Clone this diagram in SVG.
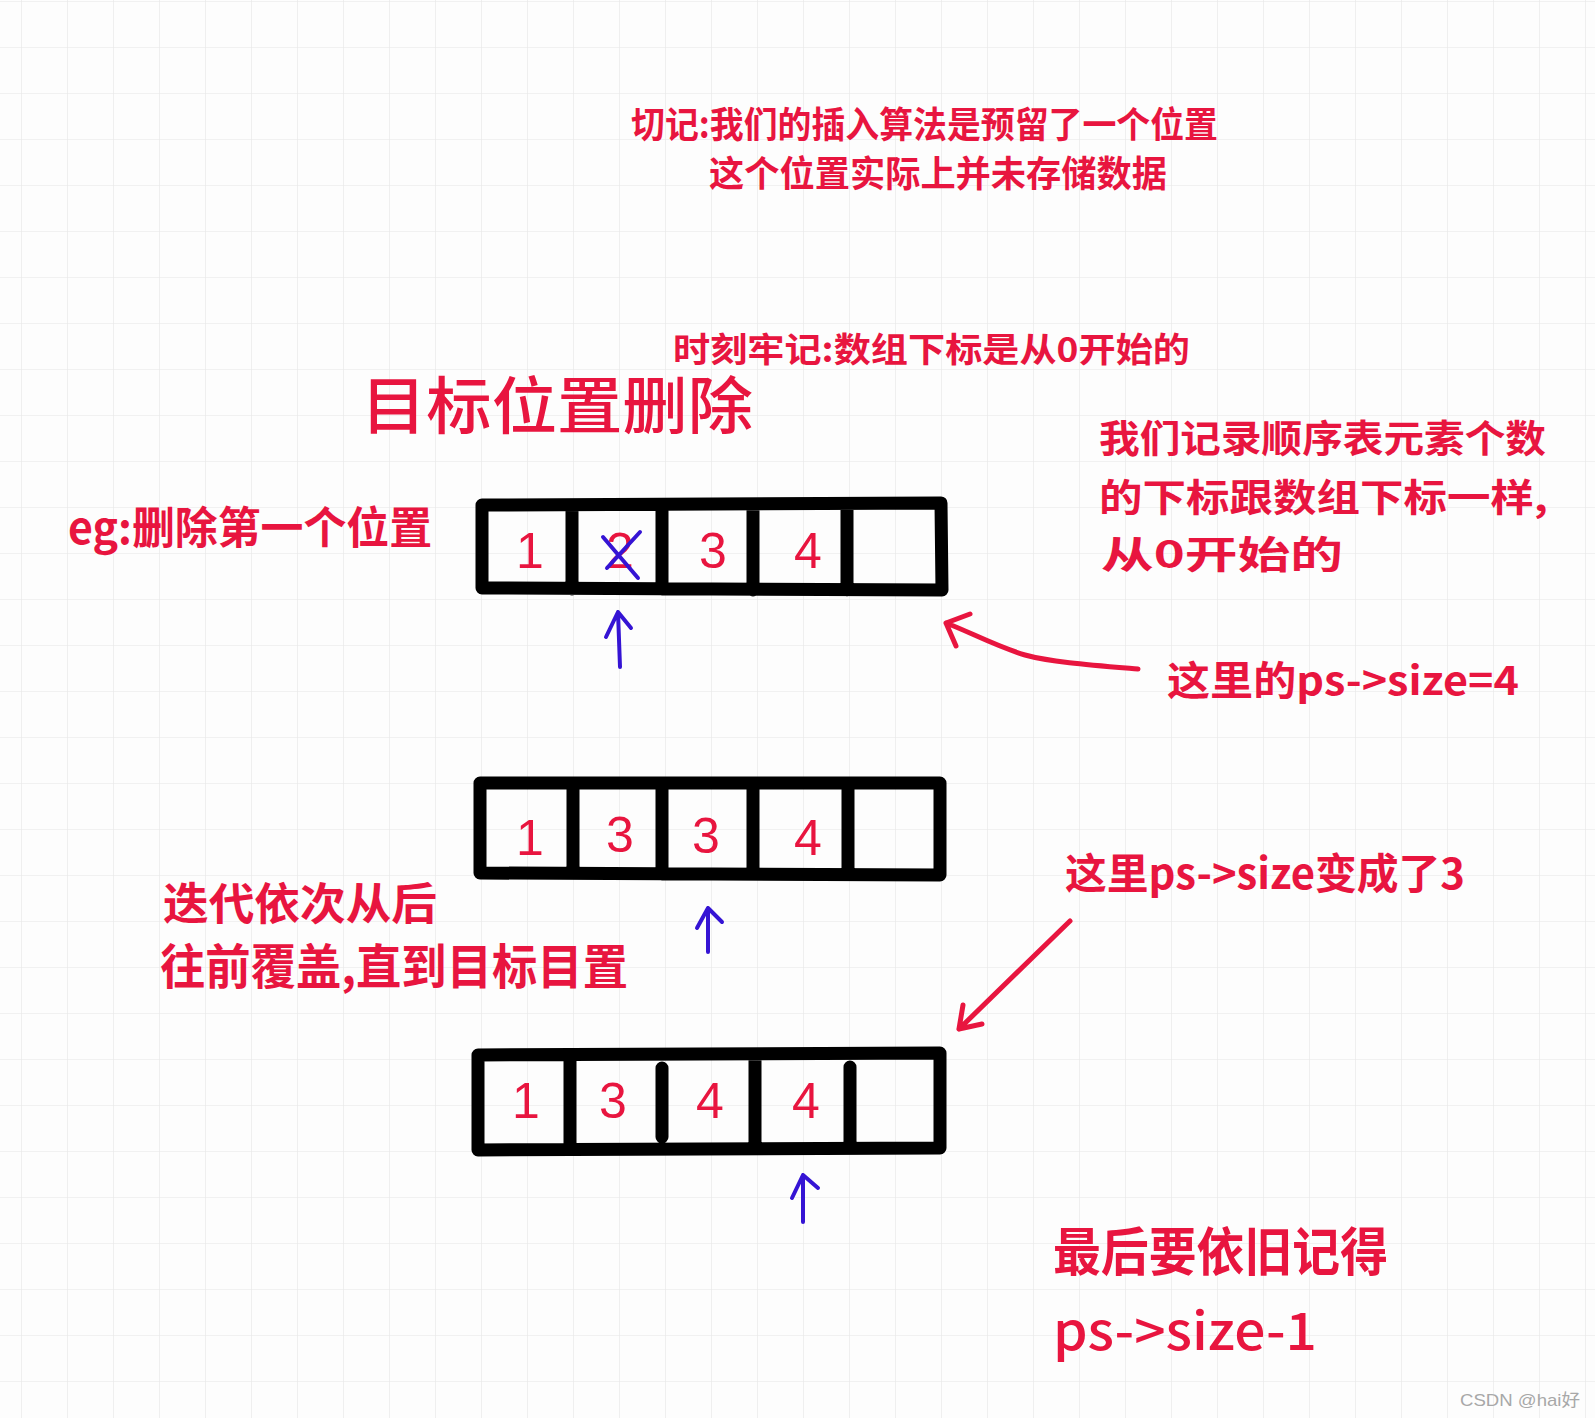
<svg xmlns="http://www.w3.org/2000/svg" width="1595" height="1418" viewBox="0 0 1595 1418">
<defs>
<pattern id="grid" x="21" y="1" width="46" height="46" patternUnits="userSpaceOnUse">
<path d="M0,0 V46 M0,0 H46" fill="none" stroke="#e6e6e6" stroke-width="1.2"/>
</pattern>
</defs>
<style>
.cn{font-family:"Noto Sans CJK SC","Noto Sans",sans-serif;fill:#e8153f;font-weight:700}
.thin{font-weight:500}
.num{font-family:"Liberation Sans","Noto Sans",sans-serif;fill:#e8153f;font-size:50px;text-anchor:middle}
.box{fill:none;stroke:#000;stroke-width:13;stroke-linejoin:round;stroke-linecap:round}
.blue{fill:none;stroke:#3514d4;stroke-width:4;stroke-linecap:round;stroke-linejoin:round}
.red{fill:none;stroke:#e8153f;stroke-width:5;stroke-linecap:round;stroke-linejoin:round}
.wm{font-family:"Liberation Sans","Noto Sans CJK SC",sans-serif;fill:#a8a8a8;font-size:17px}
</style>
<rect width="1595" height="1418" fill="#fdfdfd"/>
<rect width="1595" height="1418" fill="url(#grid)"/>

<g id="note-top">
<text class="cn" x="631" y="138" font-size="36" textLength="587" lengthAdjust="spacingAndGlyphs">切记:我们的插入算法是预留了一个位置</text>
<text class="cn" x="709" y="187" font-size="36" textLength="458" lengthAdjust="spacingAndGlyphs">这个位置实际上并未存储数据</text>
</g>
<g id="note-index">
<text class="cn" x="673" y="362" font-size="34" textLength="517" lengthAdjust="spacingAndGlyphs">时刻牢记:数组下标是从0开始的</text>
</g>
<g id="title">
<text class="cn thin" x="361" y="429" font-size="62" textLength="392" lengthAdjust="spacingAndGlyphs">目标位置删除</text>
</g>
<g id="note-eg">
<text class="cn" x="68" y="544" font-size="44" textLength="364" lengthAdjust="spacingAndGlyphs">eg:删除第一个位置</text>
</g>
<g id="note-right">
<text class="cn" x="1099" y="452" font-size="38" textLength="447" lengthAdjust="spacingAndGlyphs">我们记录顺序表元素个数</text>
<text class="cn" x="1099" y="511" font-size="38" textLength="449" lengthAdjust="spacingAndGlyphs">的下标跟数组下标一样,</text>
<text class="cn" x="1101" y="568" font-size="38" textLength="242" lengthAdjust="spacingAndGlyphs">从0开始的</text>
</g>
<g id="note-size4">
<text class="cn" x="1167" y="695" font-size="40" textLength="352" lengthAdjust="spacingAndGlyphs">这里的ps->size=4</text>
</g>
<g id="note-size3">
<text class="cn" x="1065" y="889" font-size="42" textLength="400" lengthAdjust="spacingAndGlyphs">这里ps->size变成了3</text>
</g>
<g id="note-iter">
<text class="cn" x="163" y="920" font-size="44" textLength="274" lengthAdjust="spacingAndGlyphs">迭代依次从后</text>
<text class="cn" x="160" y="984" font-size="48" textLength="468" lengthAdjust="spacingAndGlyphs">往前覆盖,直到目标目置</text>
</g>
<g id="note-final">
<text class="cn" x="1053" y="1271" font-size="52" textLength="335" lengthAdjust="spacingAndGlyphs">最后要依旧记得</text>
<text class="cn thin" x="1053" y="1350" font-size="52" textLength="264" lengthAdjust="spacingAndGlyphs">ps->size-1</text>
</g>

<g id="array1">
<path class="box" d="M482,505 L941,503 L942,590 L482,588 Z M572,507 V589 M662,506 V589 M753,506 V590 M847,505 V590"/>
<text class="num" x="530" y="568">1</text>
<text class="num" x="620" y="568">2</text>
<text class="num" x="713" y="568">3</text>
<text class="num" x="808" y="568">4</text>
<path class="blue" d="M603,537 L638,578 M640,532 L607,568" stroke-width="5"/>
</g>
<g id="array2">
<path class="box" d="M480,783 L940,783 L940,875 L480,873 Z M573,785 V872 M662,785 V874 M753,785 V872 M848,785 V874"/>
<text class="num" x="530" y="855">1</text>
<text class="num" x="620" y="852" font-size="44">3</text>
<text class="num" x="706" y="853">3</text>
<text class="num" x="808" y="855">4</text>
</g>
<g id="array3">
<path class="box" d="M478,1055 L940,1053 L940,1148 L478,1150 Z M570,1057 V1148 M662,1068 V1137 M755,1057 V1148 M850,1067 V1147"/>
<text class="num" x="526" y="1118">1</text>
<text class="num" x="613" y="1118">3</text>
<text class="num" x="710" y="1118">4</text>
<text class="num" x="806" y="1118">4</text>
</g>

<g id="connectors">
<path class="blue" d="M620,667 L618,612 M606,637 L618,612 L631,628"/>
<path class="blue" d="M708,952 L708,908 M697,928 L708,908 L722,922"/>
<path class="blue" d="M803,1222 L803,1175 M792,1198 L803,1175 L818,1188"/>
<path class="red" d="M1138,669 C1090,665 1050,662 1025,655 C995,646 970,632 946,623 M970,614 L946,623 L956,646"/>
<path class="red" d="M1070,921 L959,1029 M963,1005 L959,1029 L982,1024"/>
</g>

<text class="wm" x="1460" y="1406" textLength="120" lengthAdjust="spacingAndGlyphs">CSDN @hai好</text>
</svg>
